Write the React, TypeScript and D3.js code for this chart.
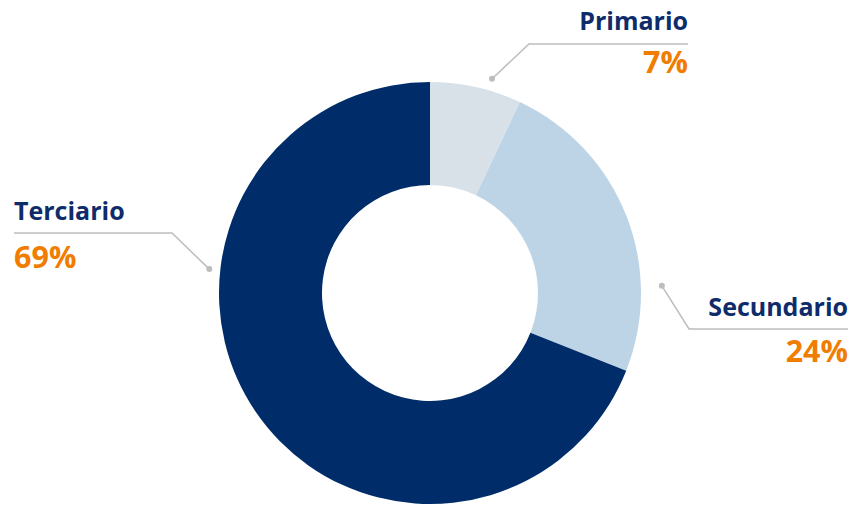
import { useEffect, useRef } from 'react';
import * as d3 from 'd3';

const categories = ['Primario', 'Secundario', 'Terciario'];
const shares = [7, 24, 69];
const colors = ['#D8E1E8', '#BDD4E7', '#002D69'];

// hand-placed leader lines (angle in radians from 12 o'clock, gap from rim, elbow, text side)
const labelLayout = [
  { angle: 0.282, gap: 12, elbow: [529, 44], end: 688, side: 'right', nameY: 30, valueY: 73 },
  { angle: 1.54, gap: 21, elbow: [689, 329], end: 848, side: 'right', nameY: 316, valueY: 362 },
  { angle: -1.463, gap: 11, elbow: [172, 233], end: 14, side: 'left', nameY: 220, valueY: 268 },
];

export default function App() {
  const svgRef = useRef<SVGSVGElement>(null);
  const width = 850;
  const height = 505;

  useEffect(() => {
    if (!svgRef.current) return;
    const svg = d3.select(svgRef.current);
    svg.selectAll('*').remove();

    const cx = 430;
    const cy = 293;
    const outerR = 211;
    const innerR = 108;

    const data = categories.map((c, i) => ({ name: c, value: shares[i], color: colors[i] }));

    const pie = d3.pie<{ name: string; value: number; color: string }>()
      .value((d) => d.value)
      .sort(null);

    const arc = d3.arc<d3.PieArcDatum<{ name: string; value: number; color: string }>>()
      .innerRadius(innerR)
      .outerRadius(outerR);

    const g = svg.append('g').attr('transform', `translate(${cx},${cy})`);

    g.selectAll('path')
      .data(pie(data))
      .join('path')
      .attr('d', arc)
      .attr('fill', (d) => d.data.color);

    // Labels + leader lines
    data.forEach((d, i) => {
      const l = labelLayout[i];
      const r = outerR + l.gap;
      const dx = cx + r * Math.sin(l.angle);
      const dy = cy - r * Math.cos(l.angle);

      svg.append('polyline')
        .attr('points', `${dx},${dy} ${l.elbow[0]},${l.elbow[1]} ${l.end},${l.elbow[1]}`)
        .attr('fill', 'none')
        .attr('stroke', '#BDBDBD')
        .attr('stroke-width', 1.5);

      svg.append('circle')
        .attr('cx', dx)
        .attr('cy', dy)
        .attr('r', 3)
        .attr('fill', '#BDBDBD');

      const anchor = l.side === 'right' ? 'end' : 'start';

      svg.append('text')
        .attr('x', l.end)
        .attr('y', l.nameY)
        .attr('text-anchor', anchor)
        .attr('font-family', 'Open Sans, sans-serif')
        .attr('font-weight', 700)
        .attr('font-size', '25px')
        .attr('fill', '#0E2C6A')
        .text(d.name);

      svg.append('text')
        .attr('x', l.end)
        .attr('y', l.valueY)
        .attr('text-anchor', anchor)
        .attr('font-family', 'Open Sans, sans-serif')
        .attr('font-weight', 700)
        .attr('font-size', '30.5px')
        .attr('fill', '#F07D00')
        .text(`${d.value}%`);
    });
  }, []);

  return (
    <svg
      ref={svgRef}
      width={width}
      height={height}
      style={{ position: 'absolute', left: 0, top: 0, background: '#fff' }}
    />
  );
}
